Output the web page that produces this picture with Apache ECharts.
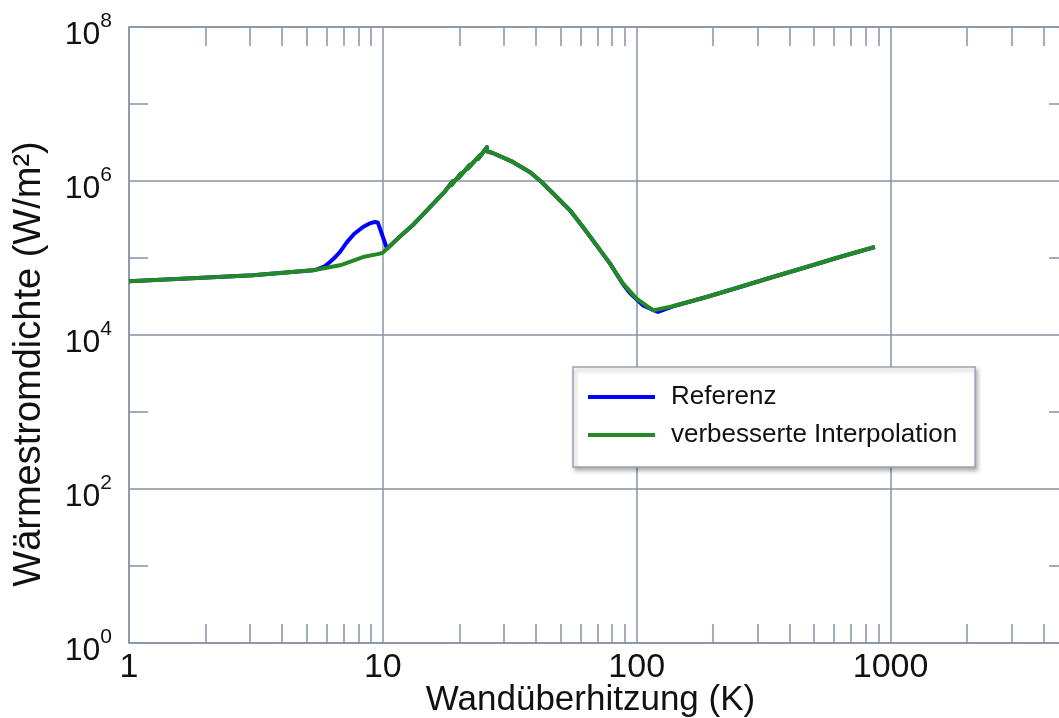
<!DOCTYPE html>
<html>
<head>
<meta charset="utf-8">
<script src="https://cdn.jsdelivr.net/npm/echarts@6/dist/echarts.min.js"></script>
<style>
  html, body { margin: 0; padding: 0; background: #ffffff; }
  #chart { width: 1059px; height: 718px; }
</style>
</head>
<body>
<div id="chart"></div>
<script>
// Boiling curve: wall superheat (K) against heat flux density (W/m²)

// improved interpolation
const interpSuperheat = [1, 1.69, 3.08, 5.31, 6.78, 8.35, 9.74, 10.0, 11.47, 13.1, 15.3, 17.57,
  18.9, 18.6, 20.3, 19.9, 22.0, 21.6, 24.1, 23.8, 25.7, 25.5, 27.1, 32.5, 37.9, 42.2, 48.4,
  54.6, 61.4, 69.5, 78.4, 88.2, 99.9, 116, 139, 188.5, 255, 344, 467, 631, 867];
const interpFlux = [5.0e4, 5.4e4, 5.96e4, 6.92e4, 8.04e4, 1.03e5, 1.14e5, 1.175e5, 1.8e5, 2.66e5, 4.55e5, 7.35e5,
  1.0e6, 8.8e5, 1.25e6, 1.1e6, 1.62e6, 1.45e6, 2.15e6, 1.95e6, 2.75e6, 2.45e6, 2.31e6, 1.77e6, 1.31e6, 9.71e5, 6.2e5,
  4.16e5, 2.53e5, 1.46e5, 8.53e4, 4.69e4, 2.97e4, 2.09e4, 2.36e4, 3.12e4, 4.2e4, 5.66e4, 7.64e4, 1.03e5, 1.39e5];

// reference solution
const refSuperheat = [1, 1.69, 3.08, 5.31, 5.5, 5.9, 6.19, 6.5, 6.78, 7.22, 7.7, 8.35, 8.9, 9.31, 9.55, 10.38,
  11.47, 13.1, 15.3, 17.57,
  18.9, 18.6, 20.3, 19.9, 22.0, 21.6, 24.1, 23.8, 25.7, 25.5, 27.1, 32.5, 37.9, 42.2, 48.4,
  54.6, 61.4, 69.5, 78.4, 88.2, 94, 105.8, 121.2, 139, 188.5, 255, 344, 467, 631, 867];
const refFlux = [5.0e4, 5.4e4, 5.96e4, 6.92e4, 7.13e4, 7.8e4, 8.87e4, 1.03e5, 1.2e5, 1.61e5, 2.05e5, 2.53e5, 2.82e5, 2.94e5, 2.9e5, 1.32e5,
  1.8e5, 2.66e5, 4.55e5, 7.35e5,
  1.0e6, 8.8e5, 1.25e6, 1.1e6, 1.62e6, 1.45e6, 2.15e6, 1.95e6, 2.75e6, 2.45e6, 2.31e6, 1.77e6, 1.31e6, 9.71e5, 6.2e5,
  4.16e5, 2.53e5, 1.46e5, 8.53e4, 4.6e4, 3.5e4, 2.43e4, 1.99e4, 2.36e4, 3.12e4, 4.2e4, 5.66e4, 7.64e4, 1.03e5, 1.39e5];

const seriesNames = ['Referenz', 'verbesserte Interpolation'];
const xTickLabels = [1, 10, 100, 1000];
const yTickExponents = [0, 2, 4, 6, 8];
const yMinorExponents = [1, 3, 5, 7];
const minorMultipliers = [2, 3, 4, 5, 6, 7, 8, 9];

const X_MIN = 1, X_MAX = 5000, Y_MIN = 1, Y_MAX = 1e8;
const FONT = "'Liberation Sans', Arial, sans-serif";
const AXIS_COLOR = '#8893a4';
const TEXT_COLOR = '#111111';

const zip = (xs, ys) => xs.map((x, i) => [x, ys[i]]);

// minor tick positions in decade space (log10 of 2..9 × 10^n)
const xLogMax = Math.log10(X_MAX);
const xMinorTicks = [];
for (let d = 0; d < 4; d++) {
  minorMultipliers.forEach(k => {
    const v = Math.log10(k) + d;
    if (v < xLogMax) xMinorTicks.push(v);
  });
}
const yLogMax = Math.log10(Y_MAX);

const axisLine = { show: true, onZero: false, lineStyle: { color: AXIS_COLOR, width: 1.5 } };
const minorTick = (values) => ({
  show: true, inside: true, length: 19, customValues: values,
  lineStyle: { color: AXIS_COLOR, width: 1.5 }
});
const hidden = { show: false };

const chart = echarts.init(document.getElementById('chart'), null, { renderer: 'canvas' });

chart.setOption({
  animation: false,
  backgroundColor: '#ffffff',
  grid: { left: 129, top: 27, width: 939, height: 616, containLabel: false, outerBoundsMode: 'none' },
  legend: {
    left: 573, top: 367, orient: 'vertical',
    icon: 'rect', itemWidth: 67, itemHeight: 4, itemGap: 12,
    padding: [17, 18, 19, 15],
    backgroundColor: '#ffffff',
    borderColor: '#9aa3ae', borderWidth: 1.5,
    shadowColor: 'rgba(0,0,0,0.3)', shadowBlur: 4, shadowOffsetX: 2, shadowOffsetY: 3,
    textStyle: { fontSize: 26, fontFamily: FONT, color: TEXT_COLOR, padding: [0, 0, 0, 11] },
    data: seriesNames
  },
  xAxis: [
    {
      type: 'log', logBase: 10, min: X_MIN, max: X_MAX, interval: 1, position: 'bottom',
      name: 'Wandüberhitzung (K)', nameLocation: 'middle', nameGap: 40, nameMoveOverlap: false,
      nameTextStyle: { fontSize: 35, fontFamily: FONT, color: TEXT_COLOR, padding: [0, 16, 0, 0] },
      axisLine: axisLine,
      axisTick: hidden,
      axisLabel: {
        fontSize: 34, fontFamily: FONT, color: TEXT_COLOR, margin: 8,
        formatter: v => xTickLabels.some(t => Math.abs(t - v) / t < 1e-6) ? String(Math.round(v)) : ''
      },
      splitLine: { show: true, lineStyle: { color: AXIS_COLOR, width: 1.5 } }
    },
    {
      type: 'value', min: 0, max: xLogMax, position: 'bottom',
      axisLine: hidden, axisTick: minorTick(xMinorTicks), axisLabel: hidden, splitLine: hidden
    },
    {
      type: 'value', min: 0, max: xLogMax, position: 'top',
      axisLine: axisLine, axisTick: minorTick(xMinorTicks), axisLabel: hidden, splitLine: hidden
    }
  ],
  yAxis: [
    {
      type: 'log', logBase: 10, min: Y_MIN, max: Y_MAX, interval: 2, position: 'left',
      name: 'Wärmestromdichte (W/m²)', nameLocation: 'middle', nameGap: 80, nameRotate: 90,
      nameTextStyle: { fontSize: 38, fontFamily: FONT, color: TEXT_COLOR, padding: [0, 58, 0, 0] },
      axisLine: axisLine,
      axisTick: hidden,
      axisLabel: {
        margin: 17, padding: [8, 0, 0, 0],
        formatter: v => {
          const e = Math.round(Math.log10(v));
          return yTickExponents.includes(e) ? '{b|10}{e|' + e + '}' : '';
        },
        rich: {
          b: { fontSize: 32, fontFamily: FONT, color: TEXT_COLOR, lineHeight: 40, verticalAlign: 'bottom' },
          e: { fontSize: 21, fontFamily: FONT, color: TEXT_COLOR, lineHeight: 21, verticalAlign: 'top' }
        }
      },
      splitLine: { show: true, lineStyle: { color: AXIS_COLOR, width: 1.5 } }
    },
    {
      type: 'value', min: 0, max: yLogMax, position: 'left',
      axisLine: hidden, axisTick: minorTick(yMinorExponents), axisLabel: hidden, splitLine: hidden
    },
    {
      type: 'value', min: 0, max: yLogMax, position: 'right',
      axisLine: axisLine, axisTick: minorTick(yMinorExponents), axisLabel: hidden, splitLine: hidden
    }
  ],
  series: [
    {
      name: seriesNames[0], type: 'line', xAxisIndex: 0, yAxisIndex: 0,
      data: zip(refSuperheat, refFlux),
      showSymbol: false, symbol: 'none', color: '#0000ff',
      lineStyle: { color: '#0000ff', width: 4, join: 'round' }, z: 3
    },
    {
      name: seriesNames[1], type: 'line', xAxisIndex: 0, yAxisIndex: 0,
      data: zip(interpSuperheat, interpFlux),
      showSymbol: false, symbol: 'none', color: '#238a23',
      lineStyle: { color: '#238a23', width: 4, join: 'round' }, z: 4
    }
  ]
});
</script>
</body>
</html>
